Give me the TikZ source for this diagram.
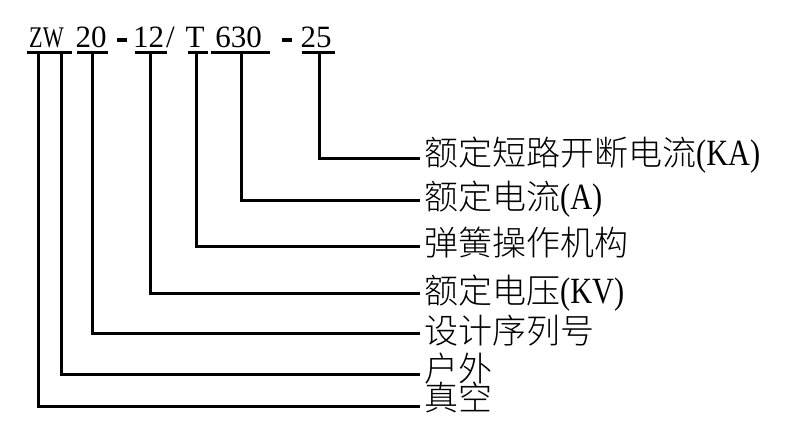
\documentclass[tikz,border=0pt]{standalone}
\usepackage{fontspec}
\setmainfont{Liberation Serif}
\newfontfamily\cjk{Noto Sans CJK SC Light}
\newfontfamily\lat[FakeStretch=0.82]{Liberation Serif}
\newfontfamily\codefont[FakeStretch=1.0]{Liberation Serif}
\newfontfamily\capfont[FakeStretch=0.74]{Liberation Serif}
\begin{document}
\begin{tikzpicture}[x=1pt,y=-1pt,
  ln/.style={line width=3pt},
  lab/.style={anchor=base west,inner sep=0pt,font=\cjk\fontsize{34}{34}\selectfont},
  code/.style={anchor=base,inner sep=0pt,font=\codefont\fontsize{31}{31}\selectfont},
  dashmark/.style={anchor=center,inner sep=0pt}]
\useasboundingbox (0,0) rectangle (788,433);
% code text
\node[code,font=\capfont\fontsize{30}{30}\selectfont] (zw) at (46.5,48) {ZW};
\node[code] (n20) at (91,48) {20};
\node[dashmark] (d1) at (122,40) {\rule{10pt}{3.5pt}};
\node[code] (n12) at (148.5,48) {12};
\node[code] (sl) at (170.5,48) {/};
\node[code] (t) at (195,48) {T};
\node[code] (n630) at (238.5,48) {630};
\node[dashmark] (d2) at (287,40) {\rule{10pt}{3.5pt}};
\node[code] (n25) at (316,48) {25};
% underlines
\draw[ln] (27,53) -- (72,53);
\draw[ln] (77,53) -- (108,53);
\draw[ln] (135,53) -- (167,53);
\draw[ln] (188,53) -- (208,53);
\draw[ln] (211,53) -- (270,53);
\draw[ln] (302,53) -- (335,53);
% connector start points
\coordinate (tZ) at (38,53);
\coordinate (tW) at (61,53);
\coordinate (t20) at (92,53);
\coordinate (t12) at (150,53);
\coordinate (tT) at (196,53);
\coordinate (t630) at (241,53);
\coordinate (t25) at (319,53);
% connector end points
\coordinate (e1) at (420,159);
\coordinate (e2) at (420,201);
\coordinate (e3) at (420,247);
\coordinate (e4) at (420,293);
\coordinate (e5) at (420,333);
\coordinate (e6) at (420,374);
\coordinate (e7) at (420,406);
% labels
\node[lab] (l1) at (424,166) {额定短路开断电流{\lat\fontsize{37}{37}\selectfont (KA)}};
\node[lab] (l2) at (424,210) {额定电流{\lat\fontsize{37}{37}\selectfont (A)}};
\node[lab] (l3) at (424,255) {弹簧操作机构};
\node[lab] (l4) at (424,303) {额定电压{\lat\fontsize{37}{37}\selectfont (KV)}};
\node[lab] (l5) at (424,343) {设计序列号};
\node[lab] (l6) at (424,381) {户外};
\node[lab] (l7) at (424,410) {真空};
% connectors
\draw[ln] (t25) |- (e1);
\draw[ln] (t630) |- (e2);
\draw[ln] (tT) |- (e3);
\draw[ln] (t12) |- (e4);
\draw[ln] (t20) |- (e5);
\draw[ln] (tW) |- (e6);
\draw[ln] (tZ) |- (e7);
\end{tikzpicture}
\end{document}
